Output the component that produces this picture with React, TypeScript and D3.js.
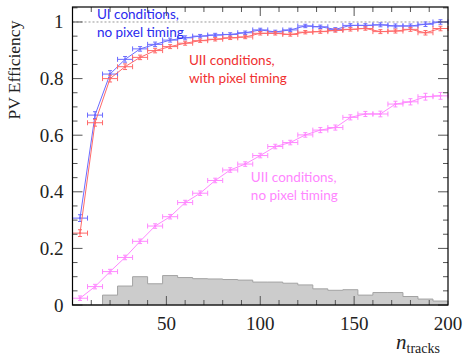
import React, { useEffect, useRef } from "react";
import * as d3 from "d3";

// bin centres of the 8-track wide bins, 0..200
const binCenters = [
  4, 12, 20, 28, 36, 44, 52, 60, 68, 76, 84, 92, 100, 108, 116, 124, 132, 140,
  148, 156, 164, 172, 180, 188, 196,
];
const binWidth = 8;

const uiNoTiming = [
  0.307, 0.671, 0.816, 0.868, 0.905, 0.921, 0.936, 0.944, 0.95, 0.954, 0.956,
  0.962, 0.972, 0.965, 0.972, 0.986, 0.983, 0.974, 0.988, 0.988, 0.99, 0.986,
  0.986, 0.992, 1.0,
];
const uiiWithTiming = [
  0.254, 0.644, 0.8, 0.842, 0.875, 0.899, 0.913, 0.925, 0.934, 0.939, 0.944,
  0.947, 0.96, 0.96, 0.956, 0.964, 0.966, 0.97, 0.974, 0.977, 0.966, 0.968,
  0.974, 0.962, 0.977,
];
const uiiNoTiming = [
  0.024, 0.065, 0.118, 0.168, 0.225, 0.279, 0.312, 0.362, 0.395, 0.44, 0.477,
  0.498, 0.528, 0.56, 0.574, 0.601, 0.618, 0.627, 0.663, 0.675, 0.675, 0.71,
  0.718, 0.736, 0.739,
];
const uiNoTimingErr = [
  0.012, 0.012, 0.012, 0.01, 0.008, 0.008, 0.007, 0.007, 0.006, 0.006, 0.006,
  0.006, 0.006, 0.006, 0.006, 0.006, 0.006, 0.006, 0.006, 0.006, 0.007, 0.007,
  0.007, 0.008, 0.008,
];
const uiiNoTimingErr = [
  0.008, 0.008, 0.008, 0.008, 0.008, 0.008, 0.008, 0.008, 0.008, 0.008, 0.008,
  0.008, 0.008, 0.008, 0.008, 0.008, 0.009, 0.009, 0.009, 0.009, 0.01, 0.01,
  0.011, 0.012, 0.012,
];

// normalised track multiplicity distribution (grey histogram)
const histEdges = [
  0, 8, 16, 24, 32, 40, 48, 56, 64, 72, 80, 88, 96, 104, 112, 120, 128, 136,
  144, 152, 160, 168, 176, 184, 192, 200,
];
const histValues = [
  0, 0, 0.035, 0.067, 0.1, 0.075, 0.104, 0.097, 0.093, 0.092, 0.09, 0.088,
  0.081, 0.081, 0.077, 0.071, 0.057, 0.052, 0.054, 0.035, 0.044, 0.044, 0.03,
  0.021, 0.014,
];

const xTicks = [50, 100, 150, 200];
const yTicks = [0, 0.2, 0.4, 0.6, 0.8, 1];

const series = [
  { name: "ui", values: uiNoTiming, err: uiNoTimingErr, color: "#6b6bff" },
  { name: "uii-t", values: uiiWithTiming, err: uiNoTimingErr, color: "#ff6a6a" },
  { name: "uii", values: uiiNoTiming, err: uiiNoTimingErr, color: "#ff88ff" },
];

const labels = [
  { lines: ["UI conditions,", "no pixel timing"], x: 13, y: 1.009, color: "#2a2aee" },
  { lines: ["UII conditions,", "with pixel timing"], x: 62, y: 0.848, color: "#f03030" },
  { lines: ["UII conditions,", "no pixel timing"], x: 95, y: 0.433, color: "#ff86ff" },
];

const App = () => {
  const svgRef = useRef(null);
  const svgWidth = 464;
  const svgHeight = 357;
  const margin = { top: 7, right: 16, bottom: 52, left: 72.5 };

  useEffect(() => {
    const innerWidth = svgWidth - margin.left - margin.right;
    const innerHeight = svgHeight - margin.top - margin.bottom;

    const svg = d3.select(svgRef.current);
    svg.selectAll("*").remove();

    const xScale = d3.scaleLinear().domain([0, 200]).range([0, innerWidth]);
    const yScale = d3.scaleLinear().domain([0, 1.053]).range([innerHeight, 0]);

    const g = svg
      .append("g")
      .attr("transform", `translate(${margin.left},${margin.top})`);

    // histogram
    const hist = histValues.map((v, i) => ({ x0: histEdges[i], x1: histEdges[i + 1], v }));
    let histPath = `M${xScale(0)},${yScale(0)}`;
    hist.forEach((d) => {
      histPath += `L${xScale(d.x0)},${yScale(d.v)}L${xScale(d.x1)},${yScale(d.v)}`;
    });
    histPath += `L${xScale(200)},${yScale(0)}Z`;
    g.append("path")
      .attr("d", histPath)
      .attr("fill", "#cccccc")
      .attr("stroke", "#a3a3a3")
      .attr("stroke-width", 1);

    // dashed line at efficiency 1
    g.append("line")
      .attr("x1", 0)
      .attr("x2", innerWidth)
      .attr("y1", yScale(1))
      .attr("y2", yScale(1))
      .attr("stroke", "#999")
      .attr("stroke-dasharray", "2,2")
      .attr("stroke-width", 1);

    // series: connecting line + error bars
    const line = d3
      .line()
      .x((d) => xScale(d[0]))
      .y((d) => yScale(d[1]));

    series.forEach((s) => {
      const pts = binCenters.map((c, i) => [c, s.values[i], s.err[i]]);
      g.append("path")
        .attr("d", line(pts))
        .attr("fill", "none")
        .attr("stroke", s.color)
        .attr("stroke-width", 1);

      const eg = g.append("g").attr("stroke", s.color).attr("stroke-width", 1);
      pts.forEach(([c, v, e]) => {
        const xl = xScale(c - binWidth / 2);
        const xr = xScale(c + binWidth / 2);
        const yc = yScale(v);
        const xc = xScale(c);
        eg.append("line").attr("x1", xl).attr("x2", xr).attr("y1", yc).attr("y2", yc);
        eg.append("line").attr("x1", xl).attr("x2", xl).attr("y1", yc - 2.5).attr("y2", yc + 2.5);
        eg.append("line").attr("x1", xr).attr("x2", xr).attr("y1", yc - 2.5).attr("y2", yc + 2.5);
        eg.append("line").attr("x1", xc).attr("x2", xc).attr("y1", yScale(v + e)).attr("y2", yScale(v - e));
        eg.append("line").attr("x1", xc - 2).attr("x2", xc + 2).attr("y1", yScale(v + e)).attr("y2", yScale(v + e));
        eg.append("line").attr("x1", xc - 2).attr("x2", xc + 2).attr("y1", yScale(v - e)).attr("y2", yScale(v - e));
        eg.append("circle").attr("cx", xc).attr("cy", yc).attr("r", 1.2).attr("fill", s.color).attr("stroke", "none");
      });
    });

    // annotations
    labels.forEach((l) => {
      const t = g
        .append("text")
        .attr("x", xScale(l.x))
        .attr("y", yScale(l.y))
        .attr("fill", l.color)
        .style("font-family", "Lato, sans-serif")
        .style("font-size", "13.5px");
      l.lines.forEach((ln, i) => {
        t.append("tspan")
          .attr("x", xScale(l.x))
          .attr("dy", i === 0 ? 0 : 18)
          .text(ln);
      });
    });

    // ticks (ROOT style: on all four sides, pointing inward)
    const tickG = g.append("g").attr("stroke", "#555").attr("stroke-width", 1);
    const yMinor = d3.range(0, 1.0501, 0.05);
    yMinor.forEach((v) => {
      const major = yTicks.some((t) => Math.abs(t - v) < 1e-6);
      const len = major ? 10 : 5;
      tickG.append("line").attr("x1", 0).attr("x2", len).attr("y1", yScale(v)).attr("y2", yScale(v));
      tickG.append("line").attr("x1", innerWidth - len).attr("x2", innerWidth).attr("y1", yScale(v)).attr("y2", yScale(v));
    });
    const xMinor = d3.range(10, 200, 10);
    xMinor.forEach((v) => {
      const major = xTicks.includes(v);
      const len = major ? 9 : 5;
      tickG.append("line").attr("x1", xScale(v)).attr("x2", xScale(v)).attr("y1", innerHeight).attr("y2", innerHeight - len);
      tickG.append("line").attr("x1", xScale(v)).attr("x2", xScale(v)).attr("y1", 0).attr("y2", len);
    });

    // frame
    g.append("rect")
      .attr("x", 0)
      .attr("y", 0)
      .attr("width", innerWidth)
      .attr("height", innerHeight)
      .attr("fill", "none")
      .attr("stroke", "#000")
      .attr("stroke-width", 1.2);

    // tick labels
    g.selectAll(".ylab")
      .data(yTicks)
      .enter()
      .append("text")
      .attr("x", -9)
      .attr("y", (d) => yScale(d) + 6.5)
      .attr("text-anchor", "end")
      .style("font-family", "'Liberation Serif', serif")
      .style("font-size", "19px")
      .attr("fill", "#222")
      .text((d) => d3.format("~g")(d));

    g.selectAll(".xlab")
      .data(xTicks)
      .enter()
      .append("text")
      .attr("x", (d) => xScale(d))
      .attr("y", innerHeight + 25)
      .attr("text-anchor", "middle")
      .style("font-family", "'Liberation Serif', serif")
      .style("font-size", "19px")
      .attr("fill", "#222")
      .text((d) => d);

    // axis titles
    g.append("text")
      .attr("transform", `translate(${-53},${yScale(0.83)}) rotate(-90)`)
      .attr("text-anchor", "middle")
      .style("font-family", "'Liberation Serif', serif")
      .style("font-size", "17.5px")
      .attr("fill", "#222")
      .text("PV Efficiency");

    const xt = g
      .append("text")
      .attr("x", innerWidth - 8)
      .attr("y", innerHeight + 44)
      .attr("text-anchor", "end")
      .style("font-family", "'Liberation Serif', serif")
      .attr("fill", "#222");
    xt.append("tspan").style("font-style", "italic").style("font-size", "21px").text("n");
    xt.append("tspan").attr("dy", 4).style("font-size", "14px").text("tracks");
  }, []);

  return (
    <svg
      ref={svgRef}
      width={svgWidth}
      height={svgHeight}
      style={{ position: "absolute", left: 0, top: 0, background: "#fff" }}
    ></svg>
  );
};

export default App;
